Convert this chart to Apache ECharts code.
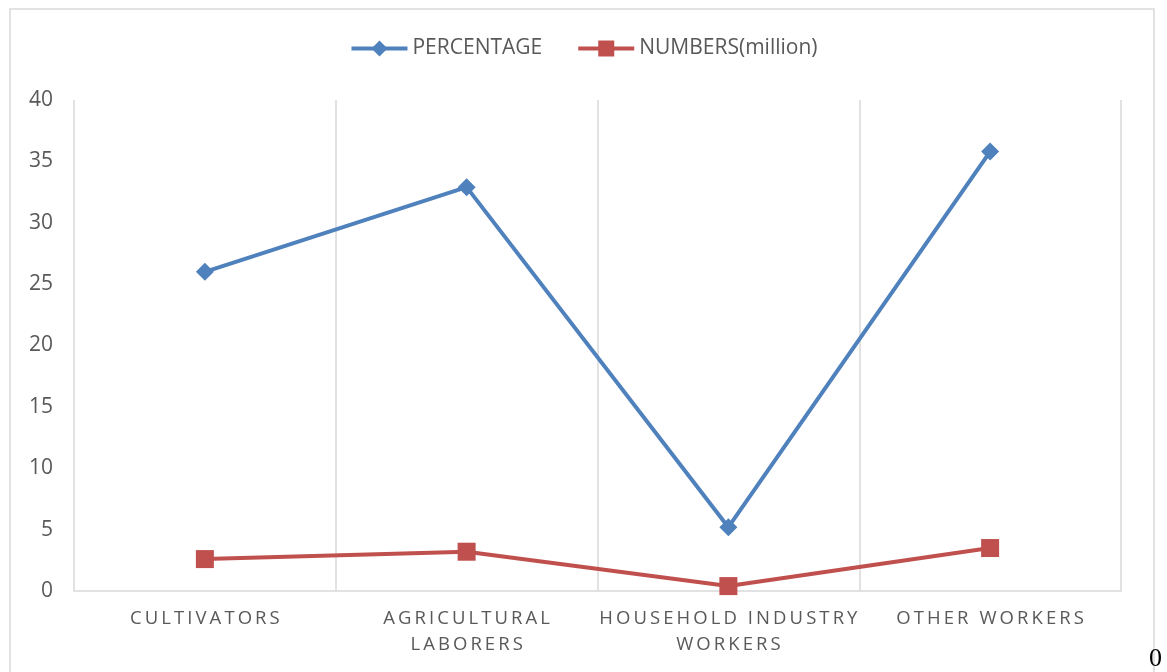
<!DOCTYPE html>
<html>
<head>
<meta charset="utf-8">
<script src="https://cdn.jsdelivr.net/npm/echarts@6/dist/echarts.min.js"></script>
<style>
  html, body { margin: 0; padding: 0; background: #fff; }
  #chart { width: 1167px; height: 672px; }
</style>
</head>
<body>
<div id="chart"></div>
<script>
const categories = ['CULTIVATORS', 'AGRICULTURAL\nLABORERS', 'HOUSEHOLD INDUSTRY\nWORKERS', 'OTHER WORKERS'];
const percentage = [26, 32.9, 5.2, 35.8];
const numbers = [2.6, 3.2, 0.4, 3.5];
const yTicks = [0, 5, 10, 15, 20, 25, 30, 35, 40];

// spread letters out a little, like the original axis labels
function spaced(s) {
  return s.split('\n').map(line => line.split('').join('\u2009')).join('\n');
}

const blue = '#4f81bd';
const red = '#c0504d';

const myChart = echarts.init(document.getElementById('chart'));
const option = {
  animation: false,
  backgroundColor: '#fff',
  textStyle: { fontFamily: 'Open Sans' },
  legend: {
    top: 33,
    left: 'center',
    itemWidth: 56,
    itemHeight: 20,
    itemGap: 34,
    textStyle: { color: '#595959', fontSize: 21, fontFamily: 'Open Sans' },
    data: [
      { name: 'PERCENTAGE', itemStyle: { color: blue }, lineStyle: { color: blue, width: 4 } },
      { name: 'NUMBERS(million)', itemStyle: { color: red }, lineStyle: { color: red, width: 4 } }
    ]
  },
  grid: { left: 74, right: 46, top: 100, bottom: 81 },
  xAxis: {
    type: 'category',
    data: categories,
    boundaryGap: true,
    axisLine: { lineStyle: { color: '#d9d9d9', width: 1.5 } },
    axisTick: { show: false },
    splitLine: { show: true, lineStyle: { color: '#d9d9d9', width: 1.5 } },
    axisLabel: {
      color: '#595959',
      fontSize: 18.5,
      lineHeight: 26,
      margin: 15,
      interval: 0,
      formatter: v => spaced(v)
    }
  },
  yAxis: {
    type: 'value',
    min: yTicks[0],
    max: yTicks[yTicks.length - 1],
    interval: 5,
    axisLine: { show: false },
    axisTick: { show: false },
    splitLine: { show: false },
    axisLabel: { color: '#595959', fontSize: 21, margin: 21 }
  },
  series: [
    {
      name: 'PERCENTAGE',
      type: 'line',
      data: percentage,
      symbol: 'diamond',
      symbolSize: 18,
      itemStyle: { color: blue },
      lineStyle: { color: blue, width: 4 }
    },
    {
      name: 'NUMBERS(million)',
      type: 'line',
      data: numbers,
      symbol: 'rect',
      symbolSize: 18,
      itemStyle: { color: red },
      lineStyle: { color: red, width: 4 }
    }
  ],
  graphic: [
    {
      type: 'rect',
      shape: { x: 10, y: 9, width: 1144, height: 720 },
      style: { fill: 'none', stroke: '#d9d9d9', lineWidth: 1.5 },
      silent: true
    },
    {
      type: 'text',
      left: 1149,
      top: 646,
      style: { text: '0', fill: '#000', font: '26px "Liberation Serif"' },
      silent: true
    }
  ]
};
myChart.setOption(option);
</script>
</body>
</html>
